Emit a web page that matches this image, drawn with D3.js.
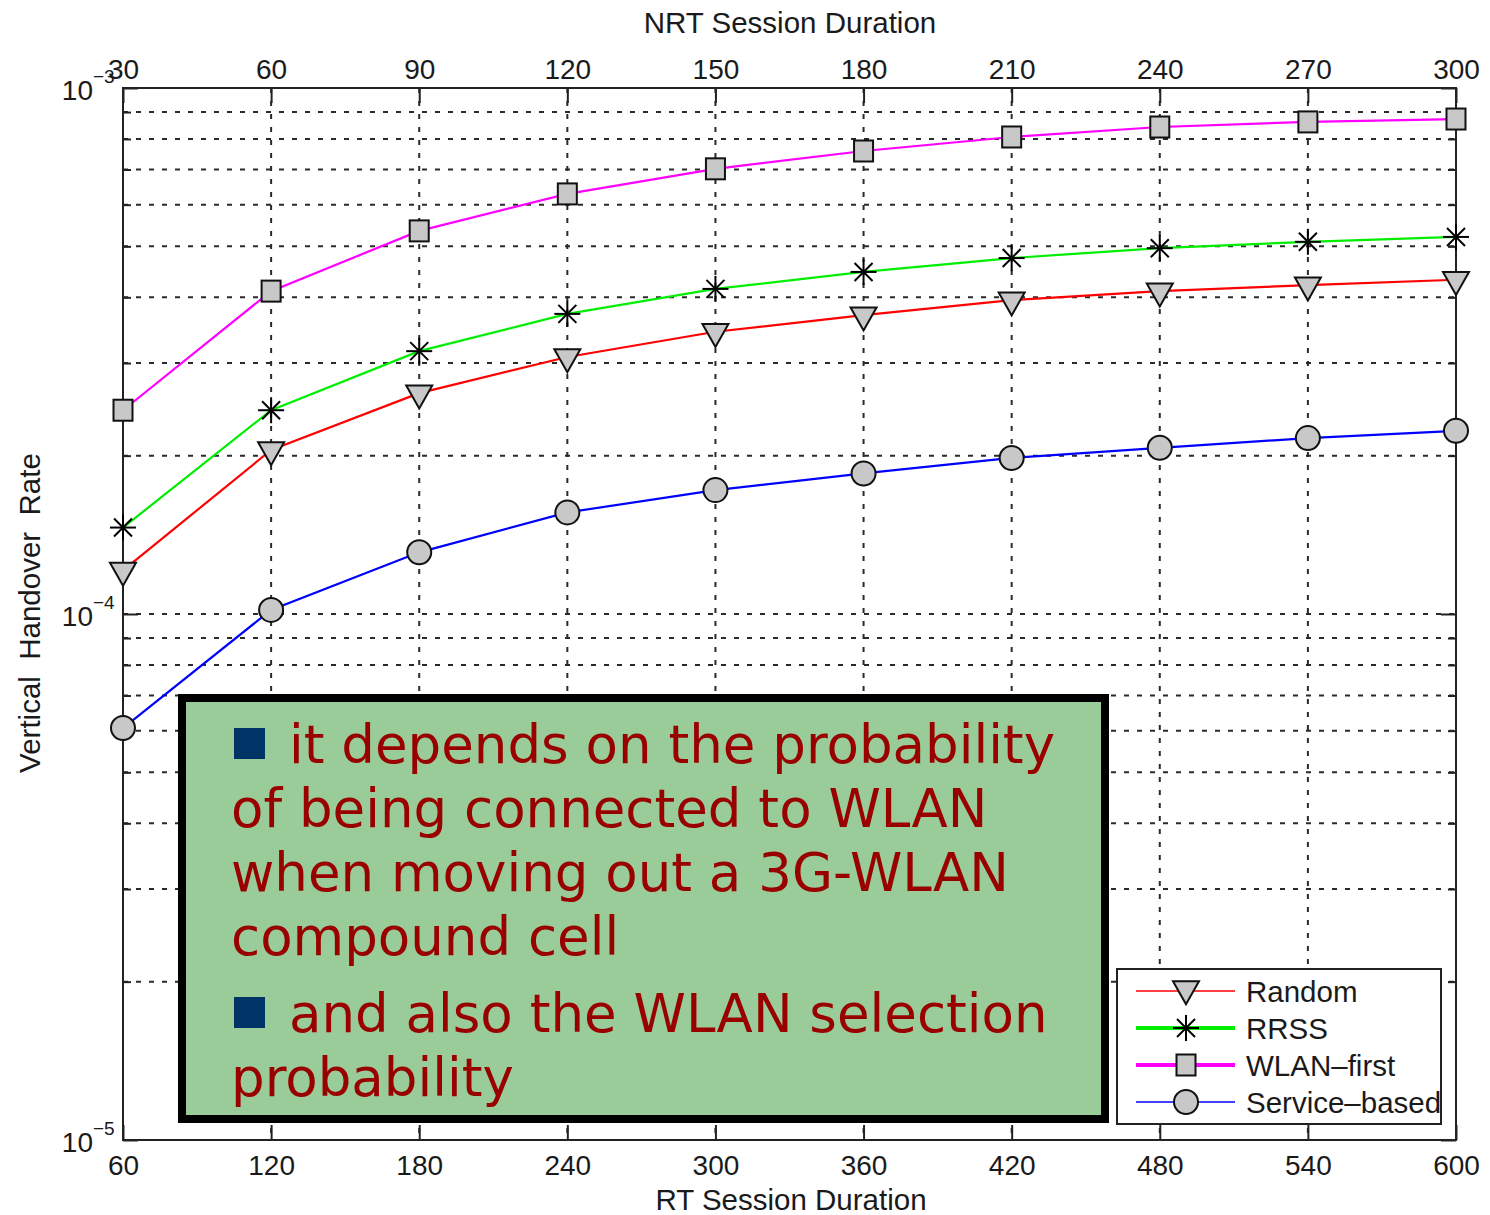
<!DOCTYPE html>
<html>
<head>
<meta charset="utf-8">
<script src="https://cdn.jsdelivr.net/npm/d3@7"></script>
<style>
  html, body { margin: 0; padding: 0; background: #ffffff; }
  svg { display: block; }
  .axis text { font-family: "Liberation Sans", Arial, sans-serif; fill: #1a1a1a; }
</style>
</head>
<body>
<svg id="chart" width="1490" height="1215"></svg>
<script>
// RT session duration (bottom axis) and NRT session duration (top axis)
const rtDuration = [60, 120, 180, 240, 300, 360, 420, 480, 540, 600];
const nrtDuration = [30, 60, 90, 120, 150, 180, 210, 240, 270, 300];

// Vertical handover rate per decision policy
const randomRate   = [1.21e-4, 2.05e-4, 2.63e-4, 3.08e-4, 3.44e-4, 3.70e-4, 3.95e-4, 4.11e-4, 4.22e-4, 4.32e-4];
const rrssRate     = [1.46e-4, 2.44e-4, 3.16e-4, 3.72e-4, 4.15e-4, 4.47e-4, 4.75e-4, 4.96e-4, 5.10e-4, 5.21e-4];
const wlanFirstRate= [2.44e-4, 4.11e-4, 5.35e-4, 6.29e-4, 7.02e-4, 7.59e-4, 8.07e-4, 8.43e-4, 8.62e-4, 8.73e-4];
const serviceRate  = [6.07e-5, 1.018e-4, 1.31e-4, 1.56e-4, 1.72e-4, 1.85e-4, 1.98e-4, 2.07e-4, 2.16e-4, 2.23e-4];

const seriesNames  = ["Random", "RRSS", "WLAN\u2013first", "Service\u2013based"];
const seriesColors = ["#ff0000", "#00ee00", "#ff00ff", "#0000ff"];
const seriesMarkers= ["triangle", "star", "square", "circle"];

// Log-axis ticks
const majorTicks = [1e-5, 1e-4, 1e-3];
const majorExp   = ["\u22125", "\u22124", "\u22123"];
const minorTicks = [2e-5,3e-5,4e-5,5e-5,6e-5,7e-5,8e-5,9e-5,2e-4,3e-4,4e-4,5e-4,6e-4,7e-4,8e-4,9e-4];

// Annotation box text
const bulletOne = ["it depends on the probability", "of being connected to WLAN", "when moving out a 3G-WLAN", "compound cell"];
const bulletTwo = ["and also the WLAN selection", "probability"];

const svg = d3.select("#chart");
const L = 123, R = 1456, T = 88, B = 1140;

const x = d3.scaleLinear().domain([60, 600]).range([L, R]);
const xTop = d3.scaleLinear().domain([30, 300]).range([L, R]);
const y = d3.scaleLog().domain([1e-5, 1e-3]).range([B, T]);

// Grid
const grid = svg.append("g").attr("stroke", "#2a2a2a").attr("stroke-width", 2)
  .attr("stroke-dasharray", "5,8").attr("fill", "none");
grid.selectAll("line.h").data(minorTicks.concat([1e-4])).join("line")
  .attr("x1", L).attr("x2", R).attr("y1", d => y(d)).attr("y2", d => y(d));
grid.selectAll("line.v").data(rtDuration.slice(1, -1)).join("line")
  .attr("y1", T).attr("y2", B).attr("x1", d => x(d)).attr("x2", d => x(d));

// Axes
function styleAxis(g) {
  g.attr("class", "axis");
  g.select(".domain").remove();
  g.selectAll(".tick line").attr("stroke", "#222").attr("stroke-width", 2);
}
svg.append("g").attr("transform", `translate(0,${B})`)
  .call(d3.axisBottom(x).tickValues(rtDuration).tickSizeInner(-15).tickSizeOuter(0).tickPadding(15).tickFormat(d3.format("d")))
  .call(styleAxis)
  .selectAll("text").attr("font-size", 28);
svg.append("g").attr("transform", `translate(0,${T})`)
  .call(d3.axisTop(xTop).tickValues(nrtDuration).tickSizeInner(-15).tickSizeOuter(0).tickPadding(9).tickFormat(d3.format("d")))
  .call(styleAxis)
  .selectAll("text").attr("font-size", 28);
svg.append("g").attr("transform", `translate(${L},0)`)
  .call(d3.axisLeft(y).tickValues(minorTicks).tickSize(-8).tickFormat(""))
  .call(styleAxis);
svg.append("g").attr("transform", `translate(${L},0)`)
  .call(d3.axisLeft(y).tickValues(majorTicks).tickSize(-15).tickFormat(""))
  .call(styleAxis);
svg.append("g").attr("transform", `translate(${R},0)`)
  .call(d3.axisRight(y).tickValues(minorTicks).tickSize(-8).tickFormat(""))
  .call(styleAxis);
svg.append("g").attr("transform", `translate(${R},0)`)
  .call(d3.axisRight(y).tickValues(majorTicks).tickSize(-15).tickFormat(""))
  .call(styleAxis);

// Power-of-ten labels
const yl = svg.append("g").attr("class", "axis");
majorTicks.forEach((v, i) => {
  yl.append("text").attr("x", 93).attr("y", y(v) + 12)
    .attr("text-anchor", "end").attr("font-size", 28).text("10");
  yl.append("text").attr("x", 93).attr("y", y(v) - 5)
    .attr("font-size", 19).text(majorExp[i]);
});

// Frame
svg.append("rect").attr("x", L).attr("y", T).attr("width", R - L).attr("height", B - T)
  .attr("fill", "none").attr("stroke", "#222").attr("stroke-width", 2);

// Axis titles
const titles = svg.append("g").attr("class", "axis");
titles.append("text").attr("x", 790).attr("y", 33).attr("text-anchor", "middle")
  .attr("font-size", 29.5).text("NRT Session Duration");
titles.append("text").attr("x", 791).attr("y", 1210).attr("text-anchor", "middle")
  .attr("font-size", 29.5).text("RT Session Duration");
titles.append("text").attr("transform", "translate(40,613) rotate(-90)")
  .attr("text-anchor", "middle").attr("font-size", 29.5)
  .style("white-space", "pre").text("Vertical  Handover  Rate");

// Markers
const markerFill = "#c8c8c8";
function drawMarker(g, type, cx, cy) {
  if (type === "triangle") {
    g.append("path").attr("d", `M${cx - 13},${cy - 7.7}L${cx + 13},${cy - 7.7}L${cx},${cy + 15.3}Z`)
      .attr("fill", markerFill).attr("stroke", "#111").attr("stroke-width", 2).attr("stroke-linejoin", "miter");
  } else if (type === "square") {
    g.append("rect").attr("x", cx - 9.5).attr("y", cy - 10.5).attr("width", 19).attr("height", 21)
      .attr("fill", markerFill).attr("stroke", "#111").attr("stroke-width", 2);
  } else if (type === "circle") {
    g.append("circle").attr("cx", cx).attr("cy", cy).attr("r", 12)
      .attr("fill", markerFill).attr("stroke", "#111").attr("stroke-width", 2);
  } else {
    const s = g.append("g").attr("stroke", "#000").attr("stroke-width", 2);
    s.append("line").attr("x1", cx - 13).attr("x2", cx + 13).attr("y1", cy).attr("y2", cy);
    s.append("line").attr("x1", cx).attr("x2", cx).attr("y1", cy - 13).attr("y2", cy + 13);
    s.append("line").attr("x1", cx - 9).attr("x2", cx + 9).attr("y1", cy - 9).attr("y2", cy + 9);
    s.append("line").attr("x1", cx - 9).attr("x2", cx + 9).attr("y1", cy + 9).attr("y2", cy - 9);
  }
}

const allSeries = [randomRate, rrssRate, wlanFirstRate, serviceRate];
const line = d3.line().x((d, i) => x(rtDuration[i])).y(d => y(d));
const plot = svg.append("g");
allSeries.forEach((vals, k) => {
  plot.append("path").datum(vals).attr("d", line)
    .attr("fill", "none").attr("stroke", seriesColors[k]).attr("stroke-width", 2.2);
});
allSeries.forEach((vals, k) => {
  vals.forEach((v, i) => drawMarker(plot, seriesMarkers[k], x(rtDuration[i]), y(v)));
});

// Legend
const lg = svg.append("g");
lg.append("rect").attr("x", 1117).attr("y", 969).attr("width", 324).attr("height", 155)
  .attr("fill", "#fff").attr("stroke", "#222").attr("stroke-width", 2);
const legendWidths = [1.5, 4, 4, 1.5];
const clip = svg.append("defs").append("clipPath").attr("id", "lgclip");
clip.append("rect").attr("x", 1117).attr("y", 969).attr("width", 323).attr("height", 155);
seriesNames.forEach((name, k) => {
  const ly = 991 + k * 37;
  lg.append("line").attr("x1", 1136).attr("x2", 1235).attr("y1", ly).attr("y2", ly)
    .attr("stroke", seriesColors[k]).attr("stroke-width", legendWidths[k]);
  drawMarker(lg, seriesMarkers[k], 1186, seriesMarkers[k] === "triangle" ? ly - 2 : ly);
  lg.append("text").attr("class", "axis").attr("x", 1246).attr("y", ly + 11)
    .attr("clip-path", "url(#lgclip)")
    .attr("font-family", "Liberation Sans, Arial, sans-serif").attr("font-size", 29.5)
    .attr("fill", "#1a1a1a").text(name);
});

// Annotation box
const box = svg.append("g");
box.append("rect").attr("x", 182).attr("y", 698).attr("width", 923).attr("height", 421)
  .attr("fill", "#99cc99").attr("stroke", "#000").attr("stroke-width", 8);
const textStyle = t => t.attr("font-family", "DejaVu Sans, Verdana, sans-serif")
  .attr("font-size", 53).attr("fill", "#990000");
function bulletBlock(lines, baseline) {
  box.append("rect").attr("x", 234).attr("y", baseline - 35).attr("width", 31).attr("height", 31)
    .attr("fill", "#003366");
  lines.forEach((s, i) => {
    box.append("text").call(textStyle)
      .attr("x", i === 0 ? 289 : 231).attr("y", baseline + i * 64).text(s);
  });
}
bulletBlock(bulletOne, 763);
bulletBlock(bulletTwo, 1032);
</script>
</body>
</html>
